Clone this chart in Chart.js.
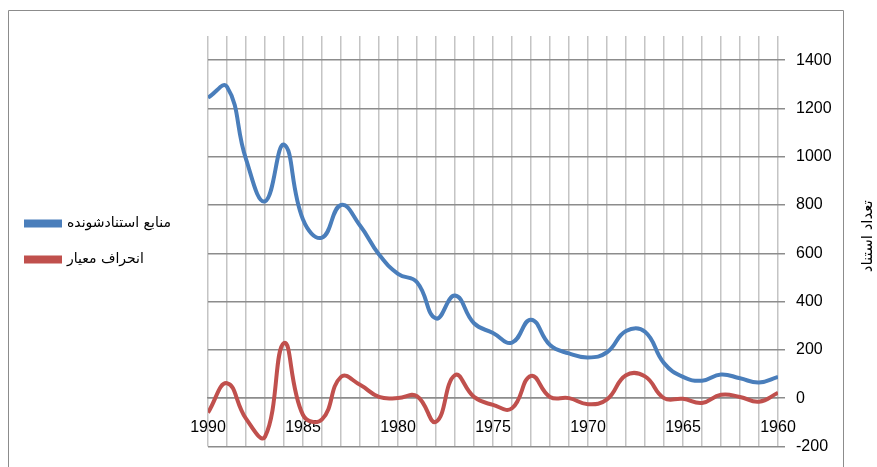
<!DOCTYPE html>
<html>
<head>
<meta charset="utf-8">
<script src="https://cdn.jsdelivr.net/npm/chart.js@4"></script>
<style>
html,body{margin:0;padding:0;background:#fff;}
#wrap{position:relative;width:877px;height:467px;}
</style>
</head>
<body>
<div id="wrap"><canvas id="c" width="877" height="467"></canvas></div>
<script>
const years = [1990,1989,1988,1987,1986,1985,1984,1983,1982,1981,1980,1979,1978,1977,1976,1975,1974,1973,1972,1971,1970,1969,1968,1967,1966,1965,1964,1963,1962,1961,1960];
const citedSources = [1245,1290,990,815,1050,740,665,800,715,595,515,480,330,425,310,270,230,325,220,185,168,190,278,275,145,88,72,98,82,65,88];
const stdDeviation = [-60,62,-85,-160,228,-70,-88,88,55,5,0,8,-98,95,5,-28,-42,92,5,0,-25,-5,95,90,0,-3,-20,14,5,-15,22];
const seriesNames = ['منابع استنادشونده','انحراف معیار'];
const yAxisTitle = 'تعداد استناد';
const yTicks = [-200,0,200,400,600,800,1000,1200,1400];
const xLabelYears = [1990,1985,1980,1975,1970,1965,1960];

const pts = arr => years.map((y,i)=>({x:y,y:arr[i]}));

const framePlugin = {
  id:'frame',
  beforeDraw(chart){
    const ctx = chart.ctx;
    ctx.save();
    ctx.strokeStyle = '#8c8c8c';
    ctx.lineWidth = 1;
    ctx.beginPath();
    ctx.moveTo(8.5,467); ctx.lineTo(8.5,10.5); ctx.lineTo(843.5,10.5); ctx.lineTo(843.5,467);
    ctx.stroke();
    ctx.restore();
  }
};
const yTitlePlugin = {
  id:'ytitle',
  afterDraw(chart){
    const ctx = chart.ctx;
    const t = chart.options.scales.y.title.text;
    ctx.save();
    ctx.translate(868, (chart.chartArea.top+chart.chartArea.bottom)/2 - 5);
    ctx.rotate(-Math.PI/2);
    ctx.font = '15px "DejaVu Sans"';
    ctx.fillStyle = '#000';
    ctx.textAlign = 'center';
    ctx.textBaseline = 'middle';
    ctx.fillText(t,0,0);
    ctx.restore();
  }
};
const legendWidthPlugin = {
  id:'legendWidth',
  beforeInit(chart){
    const lg = chart.legend;
    if(lg){
      const orig = lg.fit;
      lg.fit = function(){ orig.call(this); this.width = 204; };
    }
  }
};

new Chart(document.getElementById('c'), {
  type:'line',
  data:{
    datasets:[
      {label:seriesNames[0], data:pts(citedSources), borderColor:'#4a7ebb', backgroundColor:'#4a7ebb', borderWidth:4, pointRadius:0, tension:0.45, fill:false},
      {label:seriesNames[1], data:pts(stdDeviation), borderColor:'#c0504d', backgroundColor:'#c0504d', borderWidth:4, pointRadius:0, tension:0.45, fill:false}
    ]
  },
  options:{
    responsive:false,
    animation:false,
    layout:{padding:{left:4,top:36,right:0,bottom:20}},
    plugins:{
      legend:{
        position:'left',
        labels:{boxWidth:34, boxHeight:4, padding:22, color:'#000', font:{family:'"DejaVu Sans"', size:14}}
      },
      tooltip:{enabled:false}
    },
    scales:{
      x:{
        type:'linear',
        reverse:true,
        min:1960, max:1990,
        position:{y:0},
        border:{display:true,color:'#8c8c8c',width:1.5},
        grid:{color:'#c4c4c4', lineWidth:1.5, drawTicks:false},
        ticks:{stepSize:1, autoSkip:false, maxRotation:0, padding:20, color:'#000',
          font:{family:'"Liberation Sans"', size:16},
          callback:v=> xLabelYears.includes(v) ? String(v) : ''}
      },
      y:{
        position:'right',
        min:-200, max:1500,
        title:{display:false, text:yAxisTitle},
        border:{display:false},
        grid:{color:'#8c8c8c', lineWidth:1.5, tickLength:7},
        afterBuildTicks(scale){ scale.ticks = yTicks.map(v=>({value:v})); },
        afterFit(scale){ scale.width = 99; },
        ticks:{padding:11, color:'#000', font:{family:'"Liberation Sans"', size:16},
          callback:v=>String(v)}
      }
    }
  },
  plugins:[framePlugin, yTitlePlugin, legendWidthPlugin]
});
</script>
</body>
</html>
